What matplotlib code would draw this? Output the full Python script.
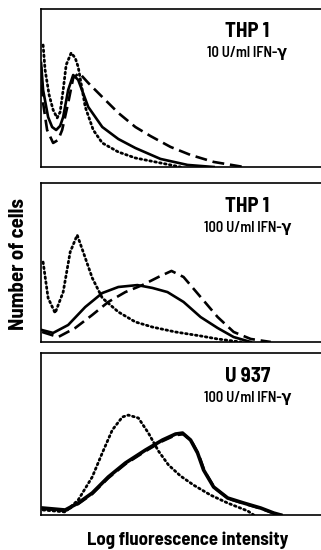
import matplotlib
matplotlib.use("Agg")
import matplotlib.pyplot as plt

# x: log fluorescence channel, y: relative number of cells (0-100 per panel)
p1_dot_x = [2, 4, 8, 12, 16, 19, 22, 25, 30, 34, 37, 44, 52, 61, 77, 94, 109, 129, 139]
p1_dot_y = [77.2, 61.4, 45.6, 36.1, 31.0, 34.8, 48.7, 64.6, 72.2, 69.0, 63.3, 38.0, 23.4, 15.2, 9.5, 5.7, 3.8, 1.3, 0]
p1_sol_x = [0, 2, 7, 11, 15, 19, 22, 27, 32, 37, 47, 61, 77, 94, 119, 146, 172]
p1_sol_y = [65.8, 48.7, 31.6, 25.3, 23.4, 26.0, 31.6, 48.7, 58.2, 55.1, 38.0, 25.3, 17.7, 12.0, 5.1, 1.3, 0]
p1_dash_x = [0, 2, 6, 12, 17, 21, 27, 32, 38, 47, 61, 77, 94, 109, 129, 149, 172, 202]
p1_dash_y = [63.3, 40.5, 23.4, 15.2, 17.1, 23.4, 40.5, 56.3, 59.5, 53.2, 44.3, 34.2, 25.3, 19.6, 12.7, 7.6, 3.2, 0]

p2_dot_x = [2, 7, 14, 22, 29, 36, 42, 51, 61, 77, 94, 111, 134, 159, 176, 199]
p2_dot_y = [50.3, 27.7, 18.2, 31.4, 56.6, 67.3, 56.6, 40.3, 27.7, 18.9, 12.6, 9.4, 6.3, 3.8, 1.9, 0]
p2_sol_x = [1, 12, 27, 44, 61, 77, 96, 111, 126, 142, 159, 176, 192, 209]
p2_sol_y = [7.5, 5.7, 10.7, 22.0, 30.8, 34.6, 35.8, 34.0, 31.4, 25.2, 15.7, 8.8, 3.1, 0]
p2_dash_x = [1, 17, 34, 51, 67, 84, 101, 117, 130, 142, 159, 176, 192, 209, 229]
p2_dash_y = [6.3, 3.1, 8.8, 17.0, 25.2, 31.4, 35.8, 40.9, 44.7, 40.9, 28.3, 15.7, 6.3, 1.9, 0]

p3_dot_x = [2, 24, 37, 51, 61, 71, 81, 87, 97, 107, 117, 127, 139, 152, 169, 186, 206, 212]
p3_dot_y = [3.1, 1.9, 9.3, 23.5, 38.3, 52.5, 60.5, 61.7, 59.9, 50.6, 39.5, 30.9, 24.1, 18.5, 12.3, 7.4, 2.5, 0]
p3_sol_x = [2, 24, 37, 51, 67, 84, 104, 121, 134, 141, 149, 156, 162, 172, 186, 202, 219, 232, 239]
p3_sol_y = [4.3, 3.1, 7.4, 13.6, 23.5, 32.1, 40.1, 46.3, 50.0, 50.6, 46.3, 38.3, 27.8, 17.3, 10.5, 7.4, 4.3, 1.2, 0]
p3_dash_x = [2, 24, 37, 51, 67, 84, 104, 121, 134, 142, 150, 157, 163, 173, 187, 203, 220, 233, 240]
p3_dash_y = [3.8, 2.6, 6.8, 13.0, 22.8, 31.4, 39.4, 45.6, 49.3, 49.9, 45.6, 37.6, 27.1, 16.7, 10.0, 6.9, 3.8, 0.8, 0]

titles = ["THP 1", "THP 1", "U 937"]
doses = ["10 U/ml IFN-γ", "100 U/ml IFN-γ", "100 U/ml IFN-γ"]

panels = [
    (p1_dot_x, p1_dot_y, p1_sol_x, p1_sol_y, p1_dash_x, p1_dash_y),
    (p2_dot_x, p2_dot_y, p2_sol_x, p2_sol_y, p2_dash_x, p2_dash_y),
    (p3_dot_x, p3_dot_y, p3_sol_x, p3_sol_y, p3_dash_x, p3_dash_y),
]

FONT = ["Barlow Semi Condensed", "DejaVu Sans"]

fig = plt.figure(figsize=(3.21, 5.50), dpi=100)
boxes = [
    [0.128, 0.6964, 0.875, 0.2873],
    [0.128, 0.3782, 0.875, 0.2890],
    [0.128, 0.0636, 0.875, 0.2945],
]

for i, (box, data) in enumerate(zip(boxes, panels)):
    ax = fig.add_axes(box)
    dx, dy, sx, sy, ax_, ay = data
    lw = 2.6 if i == 2 else 1.9
    ax.plot(sx, sy, color="black", lw=lw, solid_joinstyle="round")
    ax.plot(ax_, ay, color="black", lw=1.9, linestyle=(0, (4.5, 2.2)))
    ax.plot(dx, dy, color="black", lw=2.0, linestyle=(0, (0.6, 1.2)),
            dash_capstyle="round")
    ax.set_xlim(0, 280)
    ax.set_ylim(0, 100)
    ax.set_xticks([])
    ax.set_yticks([])
    ax.spines["right"].set_visible(False)
    for s in ["left", "top", "bottom"]:
        ax.spines[s].set_linewidth(1.2)
    ax.text(0.735, 0.855, titles[i], transform=ax.transAxes, ha="center",
            va="center", fontsize=15, fontweight="bold", family=FONT)
    ax.text(0.735, 0.72, doses[i], transform=ax.transAxes, ha="center",
            va="center", fontsize=10.5, fontweight="semibold", family=FONT)

fig.text(0.058, 0.52, "Number of cells", rotation=90, ha="center", va="center",
         fontsize=15, fontweight="bold", family=FONT)
fig.text(0.585, 0.018, "Log fluorescence intensity", ha="center", va="center",
         fontsize=13.5, fontweight="bold", family=FONT)

fig.savefig("out.png", dpi=100)
